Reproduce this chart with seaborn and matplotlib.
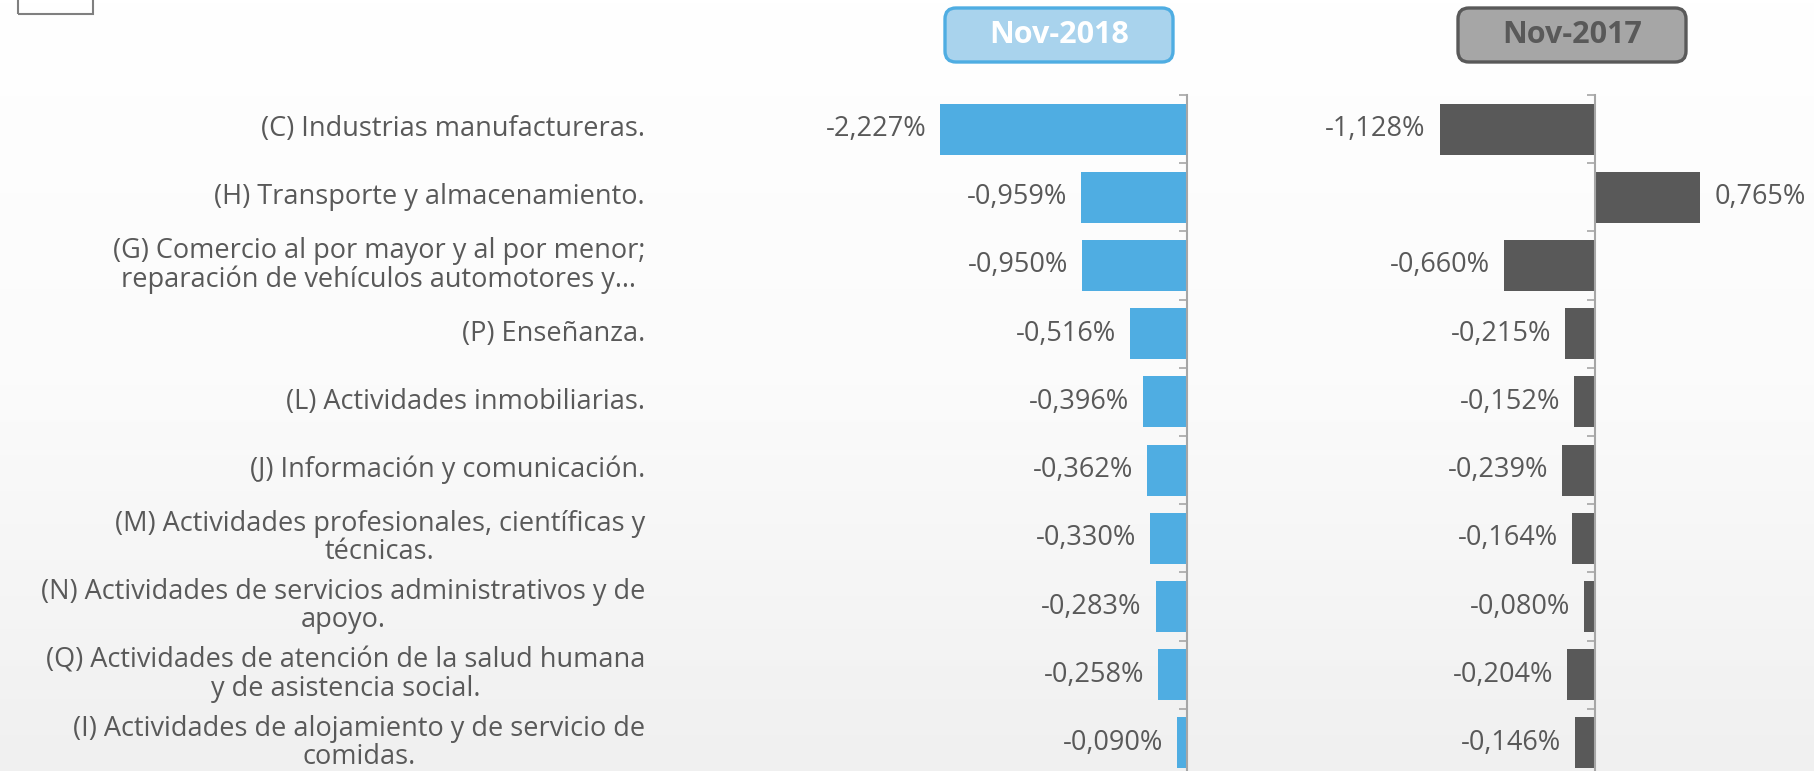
import numpy as np
import pandas as pd
import matplotlib
matplotlib.use("Agg")
import matplotlib.pyplot as plt
import matplotlib.transforms as mtransforms
from matplotlib.patches import FancyBboxPatch, Rectangle
from matplotlib.colors import LinearSegmentedColormap
import seaborn as sns

categories = [
    "(C) Industrias manufactureras.",
    "(H) Transporte y almacenamiento.",
    "(G) Comercio al por mayor y al por menor;\nreparación de vehículos automotores y…",
    "(P) Enseñanza.",
    "(L) Actividades inmobiliarias.",
    "(J) Información y comunicación.",
    "(M) Actividades profesionales, científicas y\ntécnicas.",
    "(N) Actividades de servicios administrativos y de\napoyo.",
    "(Q) Actividades de atención de la salud humana\ny de asistencia social.",
    "(I) Actividades de alojamiento y de servicio de\ncomidas.",
]
values_nov2018 = [-2.227, -0.959, -0.950, -0.516, -0.396, -0.362, -0.330, -0.283, -0.258, -0.090]
values_nov2017 = [-1.128, 0.765, -0.660, -0.215, -0.152, -0.239, -0.164, -0.080, -0.204, -0.146]
panel_titles = ["Nov-2018", "Nov-2017"]

W, H = 1814, 771
sns.set_theme(style="white")
plt.rcParams["font.family"] = ["Open Sans", "DejaVu Sans"]

fig = plt.figure(figsize=(W / 100, H / 100), dpi=100)
fig.patch.set_facecolor("white")

def fx(x):
    return x / W

def fy(y):
    return 1 - y / H

# background gradient
bg = fig.add_axes([0, 0, 1, 1], zorder=-10)
grad = np.linspace(0, 1, 256).reshape(-1, 1)
cmap = LinearSegmentedColormap.from_list("bg", ["#ffffff", "#fbfbfb", "#f0f0f0"])
bg.imshow(grad, aspect="auto", cmap=cmap, extent=[0, 1, 0, 1], origin="upper")
bg.set_axis_off()

text_color = "#595959"
axis_color = "#a6a6a6"
FS = 19.5

top_px = 95
row_px = 68.2
bottom_px = top_px + 10 * row_px

def make_panel(x0_px, x1_px, zero_px, scale, values, color):
    ax = fig.add_axes([fx(x0_px), fy(bottom_px), (x1_px - x0_px) / W, (bottom_px - top_px) / H])
    ax.patch.set_alpha(0)
    df = pd.DataFrame({"cat": categories, "val": values})
    sns.barplot(data=df, x="val", y="cat", orient="h", color=color, saturation=1,
                width=0.75, linewidth=0, ax=ax)
    ax.set_xlim(-(zero_px - x0_px) / scale, (x1_px - zero_px) / scale)
    ax.set_ylim(len(categories) - 0.5, -0.5)
    for s in ["top", "right", "bottom"]:
        ax.spines[s].set_visible(False)
    ax.spines["left"].set_position(("data", 0))
    ax.spines["left"].set_color(axis_color)
    ax.spines["left"].set_linewidth(1.5)
    ax.set_yticks(np.arange(-0.5, len(categories), 1))
    ax.set_yticklabels([])
    ax.tick_params(axis="y", length=6, width=1.2, color=axis_color, direction="out", left=True)
    ax.set_xticks([])
    ax.set_xlabel("")
    ax.set_ylabel("")
    labels = [f"{v:.3f}".replace(".", ",") + "%" for v in values]
    ax.bar_label(ax.containers[0], labels=labels, padding=10, fontsize=FS,
                 color=text_color)
    return ax

ax1 = make_panel(650, 1187, 1187, 110.9, values_nov2018, "#4fade2")
ax2 = make_panel(1250, 1814, 1595, 137.7, values_nov2017, "#595959")

# category labels
tr = mtransforms.blended_transform_factory(fig.transFigure, ax1.transData)
for i, c in enumerate(categories):
    ax1.text(fx(645), i, c, transform=tr, ha="right", va="center", multialignment="center",
             fontsize=FS, color=text_color, linespacing=1.0)

# title boxes
def title_box(x0, x1, y0, y1, text, face, edge, tcolor):
    box = FancyBboxPatch((fx(x0), fy(y1)), fx(x1 - x0), (y1 - y0) / H,
                         boxstyle="round,pad=0,rounding_size=0.006",
                         transform=fig.transFigure, facecolor=face, edgecolor=edge,
                         linewidth=2.4, mutation_aspect=W / H)
    fig.add_artist(box)
    fig.text(fx((x0 + x1) / 2), fy((y0 + y1) / 2), text, ha="center", va="center",
             fontsize=22, fontweight="bold", color=tcolor)

title_box(945, 1173, 8, 62, panel_titles[0], "#a9d3ed", "#4fade2", "white")
title_box(1458, 1686, 8, 62, panel_titles[1], "#a6a6a6", "#595959", "#595959")

# cut-off box in top-left corner
fig.add_artist(Rectangle((fx(18), fy(14)), fx(75), 40 / H, transform=fig.transFigure,
                         facecolor="none", edgecolor="#7f7f7f", linewidth=1.5))

fig.savefig("out.png", dpi=100)
